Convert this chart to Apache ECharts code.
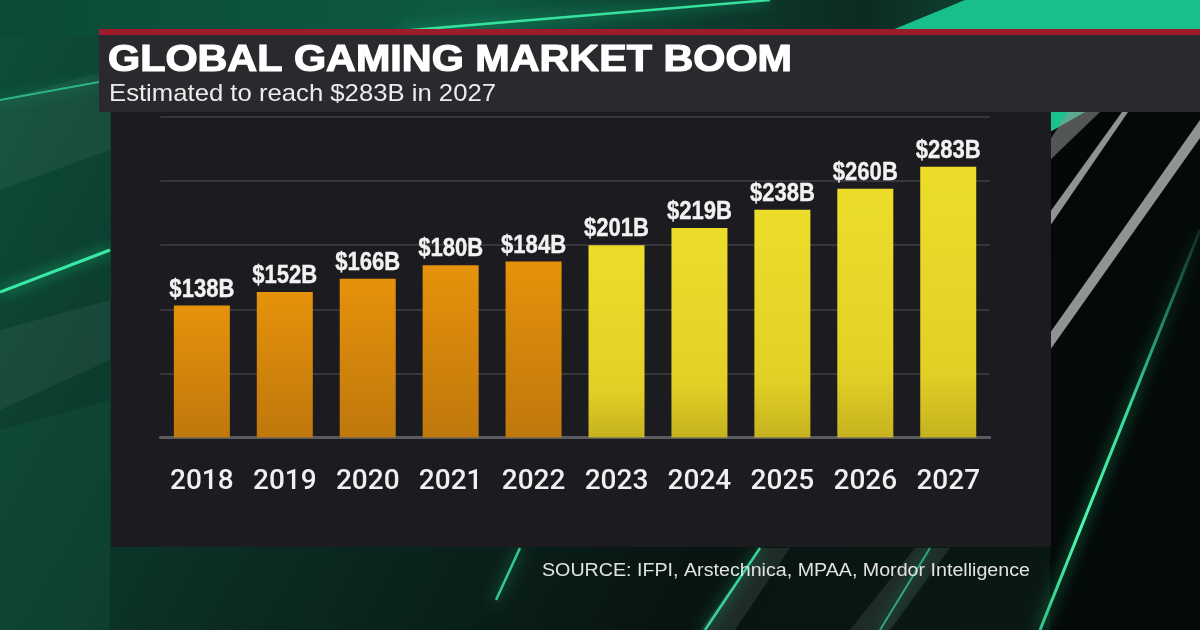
<!DOCTYPE html>
<html>
<head>
<meta charset="utf-8">
<script src="https://cdn.jsdelivr.net/npm/echarts@6/dist/echarts.min.js"></script>
<style>
html,body{margin:0;padding:0;background:#0a1613;}
#c{width:1200px;height:630px;}
</style>
</head>
<body>
<div id="c"></div>
<script>
// ---- data ----
const categories = ['2018','2019','2020','2021','2022','2023','2024','2025','2026','2027'];
const values = [138, 152, 166, 180, 184, 201, 219, 238, 260, 283];
const estimated = [false, false, false, false, false, true, true, true, true, true];
const titleText = 'GLOBAL GAMING MARKET BOOM';
const subtitleText = 'Estimated to reach $283B in 2027';
const sourceText = 'SOURCE: IFPI, Arstechnica, MPAA, Mordor Intelligence';

// ---- helpers ----
const mctx = document.createElement('canvas').getContext('2d');
function fit(text, font, target) {
  mctx.font = font;
  const w = mctx.measureText(text).width;
  return w > 0 ? target / w : 1;
}
const SANS = '"Liberation Sans", Arial, Helvetica, sans-serif';
const labelFont = 'bold 26px ' + SANS;
const labelScale = fit('$138B', labelFont, 65);

const orange = {type:'linear', x:0, y:0, x2:0, y2:1, colorStops:[
  {offset:0, color:'#e6920b'}, {offset:1, color:'#bf780c'}]};
const yellow = {type:'linear', x:0, y:0, x2:0, y2:1, colorStops:[
  {offset:0, color:'#eddd2a'}, {offset:0.75, color:'#e3d026'}, {offset:1, color:'#c6b21f'}]};

const neon = (x1,y1,x2,y2,w,op) => ({
  type:'line', z:-50, silent:true,
  shape:{x1,y1,x2,y2},
  style:{stroke:'rgba(60,240,170,'+op+')', lineWidth:w, shadowBlur:14, shadowColor:'rgba(30,230,150,0.9)'}
});
const band = (pts, color) => ({type:'polygon', z:-55, silent:true, shape:{points:pts}, style:{fill:color}});

const titleFont = 'bold 36px ' + SANS;
const subFont = '24px ' + SANS;
const srcFont = '18px ' + SANS;

const graphics = [
  // background
  {type:'rect', z:-60, silent:true, shape:{x:0,y:0,width:1200,height:630},
   style:{fill:{type:'linear',x:0,y:0,x2:1,y2:1,colorStops:[
     {offset:0,color:'#0e4f3a'},{offset:0.35,color:'#0b2c23'},{offset:0.65,color:'#081411'},{offset:1,color:'#0a1a15'}]}}},
  {type:'rect', z:-58, silent:true, shape:{x:0,y:0,width:1200,height:35},
   style:{fill:{type:'linear',x:0,y:0,x2:1,y2:0,colorStops:[
     {offset:0,color:'#0b4a36'},{offset:0.4,color:'#0e5a42'},{offset:0.6,color:'#0c3a2d'},{offset:0.72,color:'#0d2a22'},{offset:1,color:'#12704f'}]}}},
  band([[880,35],[965,0],[1200,0],[1200,35]], '#19bf8b'),
  band([[0,100],[110,70],[110,150],[0,190]], 'rgba(140,170,160,0.10)'),
  band([[0,330],[110,300],[110,360],[0,410]], 'rgba(140,170,160,0.10)'),
  band([[0,430],[110,400],[110,630],[0,630]], 'rgba(20,90,60,0.35)'),
  band([[1050,112],[1200,112],[1200,630],[1050,630]], 'rgba(0,0,0,0.55)'),
  band([[1050,112],[1085,112],[1050,132]], '#1bc28d'),
  band([[1050,140],[1068,112],[1100,112],[1050,160]], 'rgba(150,150,150,0.55)'),
  band([[1050,212],[1122,112],[1128,112],[1050,226]], 'rgba(170,170,170,0.85)'),
  band([[1050,333],[1200,120],[1200,138],[1050,350]], 'rgba(170,170,170,0.85)'),
  band([[700,630],[760,548],[790,548],[735,630]], 'rgba(160,180,170,0.14)'),
  band([[850,630],[915,548],[950,548],[890,630]], 'rgba(160,180,170,0.14)'),
  neon(400,31,770,0,2.5,0.9),
  neon(0,100,99,82,2,0.6),
  neon(0,292,110,250,3,0.95),
  {type:'line', z:-50, silent:true, shape:{x1:1200,y1:230,x2:1040,y2:630},
   style:{lineWidth:3, shadowBlur:14, shadowColor:'rgba(30,230,150,0.9)',
     stroke:{type:'linear',x:0,y:0,x2:0,y2:1,colorStops:[
       {offset:0,color:'rgba(60,200,150,0.15)'},{offset:0.45,color:'rgba(60,240,170,0.9)'},{offset:0.75,color:'rgba(80,250,180,1)'},{offset:1,color:'rgba(60,230,160,0.8)'}]}}},
  neon(760,548,705,630,2.5,0.85),
  neon(520,548,496,600,2.5,0.8),
  neon(930,548,880,630,2,0.6),
  // title bar
  {type:'rect', z:-40, silent:true, shape:{x:99,y:29,width:1101,height:83}, style:{fill:'#2a2a2e'}},
  {type:'rect', z:-39, silent:true, shape:{x:99,y:29,width:1101,height:6}, style:{fill:'#9e1b2b'}},
  // chart panel
  {type:'rect', z:-40, silent:true, shape:{x:111,y:112,width:940,height:435}, style:{fill:'#1c1c20'}},
  // texts
  {type:'text', z:10, silent:true, x:108, y:61, scaleX: fit(titleText, titleFont, 684), originX:0, originY:0,
   style:{text:titleText, fill:'#ffffff', stroke:'#ffffff', lineWidth:1.2, font:titleFont, align:'left', verticalAlign:'middle'}},
  {type:'text', z:10, silent:true, x:109, y:94, scaleX: fit(subtitleText, subFont, 387), originX:0, originY:0,
   style:{text:subtitleText, fill:'#ececec', font:subFont, align:'left', verticalAlign:'middle'}},
  {type:'text', z:10, silent:true, x:542, y:571, scaleX: fit(sourceText, srcFont, 488), originX:0, originY:0,
   style:{text:sourceText, fill:'#e2e2e2', font:srcFont, align:'left', verticalAlign:'middle'}}
];

const chart = echarts.init(document.getElementById('c'), null, {renderer:'canvas'});
chart.setOption({
  backgroundColor:'transparent',
  animation:false,
  graphic:{elements:graphics},
  grid:{left:160.4, right:210.3, top:117, bottom:192.5, containLabel:false},
  xAxis:{
    type:'category', data:categories,
    axisLine:{show:true, lineStyle:{color:'#5b5b5f', width:3}},
    axisTick:{show:false},
    axisLabel:{color:'#f0f0f0', fontSize:28, fontFamily:'Roboto, "Liberation Sans", sans-serif', fontWeight:500, margin:30, lineHeight:28}
  },
  yAxis:{
    type:'value', min:0, max:335, interval:67,
    axisLine:{show:false}, axisTick:{show:false}, axisLabel:{show:false},
    splitLine:{show:true, lineStyle:{color:'#414145', width:1.5}}
  },
  series:[{
    type:'bar',
    barWidth:56,
    data: values.map((v,i) => ({value:v, itemStyle:{color: estimated[i] ? yellow : orange}}))
  },{
    type:'custom',
    z:5,
    silent:true,
    data: values.map((v,i) => [i, v]),
    renderItem: (params, api) => {
      const p = api.coord([api.value(0), api.value(1)]);
      return {
        type:'text', x:p[0], y:p[1]-3, scaleX:labelScale, originX:0, originY:0,
        style:{text:'$' + api.value(1) + 'B', font:labelFont, fill:'#f2f2f2',
               stroke:'#f2f2f2', lineWidth:0.4, align:'center', verticalAlign:'bottom'}
      };
    }
  }]
});
</script>
</body>
</html>
